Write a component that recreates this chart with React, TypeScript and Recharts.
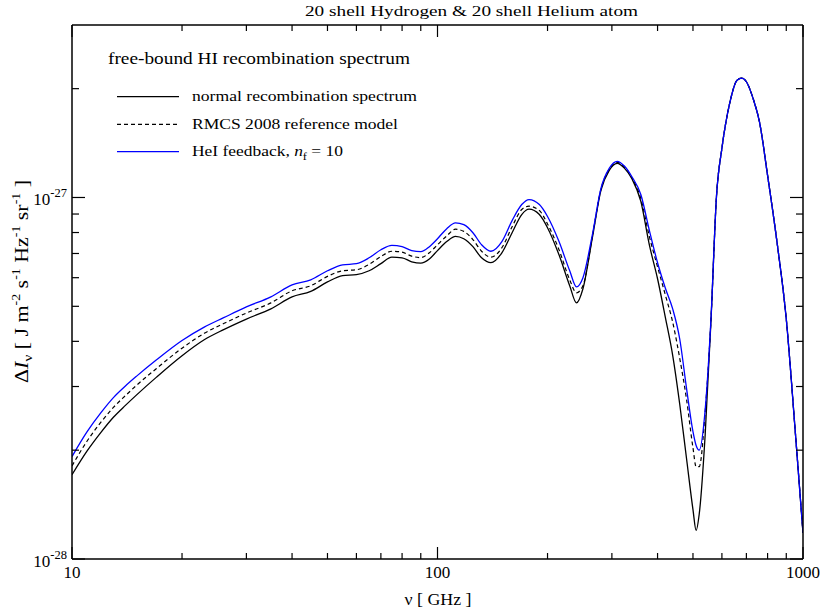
import { Line, LineChart, XAxis, YAxis } from "recharts";

// Free-bound HI recombination spectrum.
// Intensities are in units of 1e-28 J m^-2 s^-1 Hz^-1 sr^-1.
const FREQ = [
  10, 11, 12, 13, 14, 15, 17, 20, 23, 26, 30, 35, 40, 45, 50, 55, 60, 65, 70, 75, 80, 85, 90, 95, 100, 106, 112,
  118, 125, 132, 140, 150, 160, 170, 178, 190, 200, 215, 230, 240, 250, 265, 280, 295, 310, 325, 340, 360, 380, 400,
  420, 440, 460, 480, 500, 510, 520, 540, 560, 580, 600, 630, 660, 680, 700, 730, 760, 800, 850, 900, 950, 1000,
];

const NORMAL = [
  1.71, 1.99, 2.24, 2.47, 2.66, 2.84, 3.18, 3.65, 4.04, 4.31, 4.61, 4.92, 5.31, 5.5, 5.84, 6.08, 6.12, 6.27, 6.56,
  6.84, 6.81, 6.64, 6.58, 6.76, 7.13, 7.55, 7.81, 7.69, 7.31, 6.81, 6.6, 7.03, 7.99, 8.97, 9.28, 8.97, 8.25, 6.94,
  5.7, 5.11, 5.59, 7.69, 10.46, 11.88, 12.43, 12.04, 11.29, 9.75, 7.38, 5.96, 4.67, 3.66, 2.68, 1.9, 1.37, 1.2, 1.33,
  2.21, 4.55, 10.13, 13.68, 18.2, 21.1, 21.4, 20.9, 18.8, 16.2, 11.51, 7.46, 4.61, 2.33, 1.18,
];

const RMCS = [
  1.81, 2.12, 2.39, 2.63, 2.83, 3.02, 3.36, 3.83, 4.21, 4.48, 4.79, 5.11, 5.52, 5.7, 6.05, 6.27, 6.31, 6.53, 6.86,
  7.1, 7.06, 6.88, 6.82, 7.03, 7.4, 7.83, 8.17, 8.06, 7.65, 7.1, 6.84, 7.26, 8.3, 9.26, 9.46, 9.2, 8.45, 7.17, 5.92,
  5.45, 5.7, 7.75, 10.53, 11.96, 12.51, 12.12, 11.36, 9.94, 7.79, 6.43, 5.38, 4.52, 3.59, 2.77, 2.03, 1.8, 1.8, 2.56,
  4.58, 10.13, 13.68, 18.2, 21.1, 21.4, 20.9, 18.8, 16.2, 11.51, 7.46, 4.61, 2.33, 1.18,
];

const HEI_FEEDBACK = [
  1.92, 2.25, 2.54, 2.8, 3.01, 3.2, 3.55, 4.02, 4.38, 4.65, 4.98, 5.31, 5.73, 5.92, 6.27, 6.51, 6.56, 6.81, 7.17,
  7.37, 7.31, 7.13, 7.08, 7.31, 7.69, 8.2, 8.51, 8.41, 7.99, 7.4, 7.1, 7.55, 8.63, 9.56, 9.87, 9.56, 8.86, 7.55,
  6.27, 5.66, 6.0, 7.84, 10.59, 12.04, 12.59, 12.2, 11.43, 10.19, 8.1, 6.6, 5.62, 4.92, 4.06, 2.97, 2.25, 2.06, 2.0,
  2.59, 4.61, 10.13, 13.68, 18.2, 21.1, 21.4, 20.9, 18.8, 16.2, 11.51, 7.46, 4.61, 2.33, 1.18,
];

const X_TICKS = [10, 20, 30, 40, 50, 60, 70, 80, 90, 100, 200, 300, 400, 500, 600, 700, 800, 900, 1000];
const X_LABELED = [10, 100, 1000];
const Y_TICKS = [1e-28, 2e-28, 3e-28, 4e-28, 5e-28, 6e-28, 7e-28, 8e-28, 9e-28, 1e-27, 2e-27];
const Y_LABELED = [1e-28, 1e-27];

const TITLE = "20 shell Hydrogen & 20 shell Helium atom";
const LEGEND_TITLE = "free-bound HI recombination spectrum";
const SERIES_NAMES = ["normal recombination spectrum", "RMCS 2008 reference model"];

const FONT = '"Liberation Serif", "Times New Roman", serif';
const BLUE = "#0000ff";

const data = FREQ.map((nu, i) => ({
  nu,
  normal: NORMAL[i] * 1e-28,
  rmcs: RMCS[i] * 1e-28,
  hei: HEI_FEEDBACK[i] * 1e-28,
}));

function inList(v: number, list: number[]) {
  return list.some((t) => Math.abs(t - v) / t < 1e-6);
}

function BottomTick({ x, y, payload }: any) {
  const major = inList(payload.value, X_LABELED);
  return (
    <g>
      <line x1={x} x2={x} y1={y} y2={y - (major ? 12 : 6)} stroke="#000" strokeWidth={1.2} />
      {major && (
        <text x={x} y={y + 19} textAnchor="middle" fontFamily={FONT} fontSize={17} fill="#000">
          {payload.value}
        </text>
      )}
    </g>
  );
}

function TopTick({ x, y, payload }: any) {
  const major = inList(payload.value, X_LABELED);
  return <line x1={x} x2={x} y1={y} y2={y + (major ? 12 : 6)} stroke="#000" strokeWidth={1.2} />;
}

function LeftTick({ x, y, payload }: any) {
  const major = inList(payload.value, Y_LABELED);
  const exp = Math.round(Math.log10(payload.value));
  return (
    <g>
      <line x1={x} x2={x + (major ? 13 : 7)} y1={y} y2={y} stroke="#000" strokeWidth={1.2} />
      {major && (
        <text x={x - 5} y={y + 8} textAnchor="end" fontFamily={FONT} fontSize={17} fill="#000">
          10
          <tspan fontSize={12.5} dy={-8}>
            {exp}
          </tspan>
        </text>
      )}
    </g>
  );
}

function RightTick({ x, y, payload }: any) {
  const major = inList(payload.value, Y_LABELED);
  return <line x1={x} x2={x - (major ? 13 : 7)} y1={y} y2={y} stroke="#000" strokeWidth={1.2} />;
}

export default function App() {
  return (
    <div style={{ position: "absolute", left: 0, top: 0, width: 822, height: 609, background: "#fff" }}>
      <LineChart width={822} height={609} data={data} margin={{ top: 20, right: 14, bottom: 10, left: 12 }}>
        <XAxis
          dataKey="nu"
          type="number"
          scale="log"
          domain={[10, 1000]}
          allowDataOverflow
          ticks={X_TICKS}
          interval={0}
          height={40}
          tickSize={0}
          tickMargin={0}
          tickLine={false}
          tick={<BottomTick />}
          axisLine={{ stroke: "#000", strokeWidth: 1.5 }}
        />
        <XAxis
          xAxisId="top"
          orientation="top"
          dataKey="nu"
          type="number"
          scale="log"
          domain={[10, 1000]}
          allowDataOverflow
          ticks={X_TICKS}
          interval={0}
          height={5}
          tickSize={0}
          tickMargin={0}
          tickLine={false}
          tick={<TopTick />}
          axisLine={{ stroke: "#000", strokeWidth: 1.5 }}
        />
        <YAxis
          type="number"
          scale="log"
          domain={[1e-28, 3e-27]}
          allowDataOverflow
          ticks={Y_TICKS}
          interval={0}
          width={60}
          tickSize={0}
          tickMargin={0}
          tickLine={false}
          tick={<LeftTick />}
          axisLine={{ stroke: "#000", strokeWidth: 1.5 }}
        />
        <YAxis
          yAxisId="right"
          orientation="right"
          type="number"
          scale="log"
          domain={[1e-28, 3e-27]}
          allowDataOverflow
          ticks={Y_TICKS}
          interval={0}
          width={5}
          tickSize={0}
          tickMargin={0}
          tickLine={false}
          tick={<RightTick />}
          axisLine={{ stroke: "#000", strokeWidth: 1.5 }}
        />
        <Line
          type="monotone"
          dataKey="normal"
          stroke="#000"
          strokeWidth={1.3}
          dot={false}
          isAnimationActive={false}
        />
        <Line
          type="monotone"
          dataKey="rmcs"
          stroke="#000"
          strokeWidth={1.2}
          strokeDasharray="4 3"
          dot={false}
          isAnimationActive={false}
        />
        <Line type="monotone" dataKey="hei" stroke={BLUE} strokeWidth={1.3} dot={false} isAnimationActive={false} />
      </LineChart>

      <svg
        width={822}
        height={609}
        style={{ position: "absolute", left: 0, top: 0, pointerEvents: "none" }}
        fontFamily={FONT}
        fill="#000"
      >
        <text x={305} y={15.5} fontSize={15} textLength={333} lengthAdjust="spacingAndGlyphs">
          {TITLE}
        </text>

        <text x={108} y={63.5} fontSize={16} textLength={302} lengthAdjust="spacingAndGlyphs">
          {LEGEND_TITLE}
        </text>
        <line x1={117} x2={179} y1={96.7} y2={96.7} stroke="#000" strokeWidth={1.3} />
        <text x={192} y={101} fontSize={15.5} textLength={225} lengthAdjust="spacingAndGlyphs">
          {SERIES_NAMES[0]}
        </text>
        <line x1={117} x2={179} y1={124.3} y2={124.3} stroke="#000" strokeWidth={1.2} strokeDasharray="4 3" />
        <text x={192} y={128.8} fontSize={15.5} textLength={206} lengthAdjust="spacingAndGlyphs">
          {SERIES_NAMES[1]}
        </text>
        <line x1={117} x2={179} y1={151.7} y2={151.7} stroke={BLUE} strokeWidth={1.3} />
        <text x={192} y={156.2} fontSize={15.5} textLength={151} lengthAdjust="spacingAndGlyphs">
          HeI feedback,{" "}
          <tspan fontStyle="italic">n</tspan>
          <tspan fontSize={11} dy={4}>
            f
          </tspan>
          <tspan dy={-4}> = 10</tspan>
        </text>

        <text x={438} y={605} fontSize={17} textAnchor="middle" textLength={67} lengthAdjust="spacingAndGlyphs">
          ν [ GHz ]
        </text>

        <text
          x={27.5}
          y={281.5}
          fontSize={19}
          textAnchor="middle"
          textLength={203}
          lengthAdjust="spacingAndGlyphs"
          transform="rotate(-90 27.5 281.5)"
        >
          Δ<tspan fontStyle="italic">I</tspan>
          <tspan fontSize={13} dy={4}>
            ν
          </tspan>
          <tspan dy={-4}> [ J m</tspan>
          <tspan fontSize={12} dy={-8}>
            -2
          </tspan>
          <tspan dy={8}> s</tspan>
          <tspan fontSize={12} dy={-8}>
            -1
          </tspan>
          <tspan dy={8}> Hz</tspan>
          <tspan fontSize={12} dy={-8}>
            -1
          </tspan>
          <tspan dy={8}> sr</tspan>
          <tspan fontSize={12} dy={-8}>
            -1
          </tspan>
          <tspan dy={8}> ]</tspan>
        </text>
      </svg>
    </div>
  );
}
